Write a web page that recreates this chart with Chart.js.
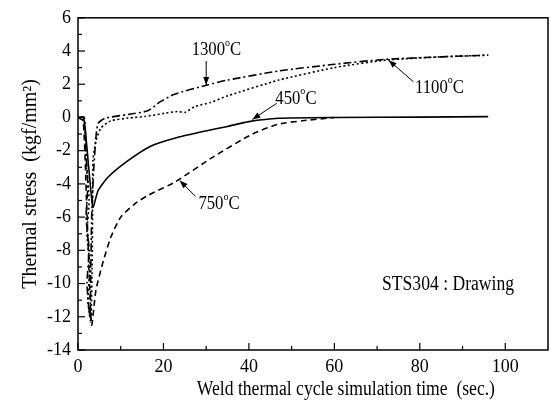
<!DOCTYPE html>
<html><head><meta charset="utf-8">
<script src="https://cdn.jsdelivr.net/npm/chart.js@4/dist/chart.umd.min.js"></script>
<style>html,body{margin:0;padding:0;background:#fff}#wrap{width:551px;height:417px}</style>
</head><body><div id="wrap"><canvas id="c" width="551" height="417"></canvas></div>
<script>
// ---- data ----
const t1300 = [0,1.5,1.8,2.3,1.9,2.6,2.1,2.8,3.0,3.2,3.6,4.2,4.7,6.3,11.7,16.3,19.3,22.6,30.3,35,47,60,72,85,96];
const s1300 = [0,0,-2,-4,-6,-8,-10,-12,-9,-6,-3.5,-1.2,-0.36,-0.05,0.18,0.4,0.95,1.4,1.96,2.25,2.8,3.2,3.5,3.65,3.75];
const t1100 = [0,1.5,2.0,2.6,2.1,2.8,2.3,3.0,3.3,3.4,3.5,4.2,5.4,7.7,11.7,15.6,20.3,23.3,25,27.3,31,35,47,60,72,85,96];
const s1100 = [0,-0.2,-3,-5,-7,-9,-11,-12.3,-9,-6,-2.6,-1.4,-0.63,-0.2,-0.04,0.06,0.25,0.36,0.3,0.65,0.9,1.3,2.25,3.0,3.45,3.65,3.75];
const t450 = [0,1.3,2.5,3.5,4.7,7,11.7,17,22.6,29.6,35,40,47,60,80,96];
const s450 = [0,0,-3,-5.4,-4.4,-3.6,-2.6,-1.73,-1.25,-0.83,-0.54,-0.25,-0.05,0,0.02,0.05];
const t750 = [0,1.2,2.0,2.7,3.2,4.2,5.8,7.7,10,13.3,16.3,22.6,31.5,40.8,47,52.5,60];
const s750 = [0,-0.2,-5,-10,-12.5,-10.4,-8.75,-7.2,-6.0,-5.2,-4.7,-3.9,-2.4,-1.0,-0.4,-0.2,0];
const xTicks = [0,20,40,60,80,100];
const yTicks = [-14,-12,-10,-8,-6,-4,-2,0,2,4,6];
// annotation labels: text, label position (t, stress), arrow tail, arrow head
const annText = ["1300°C","1100°C","450°C","750°C"];
const annPos  = [[32.4,4.05],[84.6,1.8],[51,1.13],[33,-5.2]];
const annTail = [[30,3.4],[78.5,2.15],[46.5,0.85],[27.5,-4.75]];
const annHead = [[30,1.95],[72.7,3.45],[40.8,-0.12],[23.8,-3.8]];
const noteText = "STS304 : Drawing";
const notePos = [86.6,-10.1];
const xTitle = "Weld thermal cycle simulation time  (sec.)";
const yTitle = "Thermal stress  (kgf/mm²)";

const pts = (t,s)=>t.map((v,i)=>({x:v,y:s[i]}));
const FONT = '"Liberation Serif", "Times New Roman", serif';
const SQ = 0.88; // horizontal squeeze of the scanned lettering

function drawSup(ctx, text, x, y, size){
  const parts = text.split('°');
  ctx.save();
  ctx.translate(x,y); ctx.scale(SQ,1);
  ctx.font = size+'px '+FONT;
  const w0 = ctx.measureText(parts[0]).width;
  ctx.font = (size*0.6)+'px '+FONT;
  const w1 = parts.length>1 ? ctx.measureText('o').width : 0;
  ctx.font = size+'px '+FONT;
  const w2 = parts.length>1 ? ctx.measureText(parts[1]).width : 0;
  let cx = -(w0+w1+w2)/2;
  ctx.textBaseline='middle'; ctx.textAlign='left';
  ctx.fillText(parts[0], cx, 0); cx += w0;
  if(parts.length>1){
    ctx.font = (size*0.6)+'px '+FONT;
    ctx.fillText('o', cx, -size*0.38); cx += w1;
    ctx.font = size+'px '+FONT;
    ctx.fillText(parts[1], cx, 0);
  }
  ctx.restore();
}

const framePlugin = {
  id:'frame',
  afterDatasetsDraw(chart){
    const {ctx, chartArea:a, scales:{x,y}} = chart;
    ctx.save();
    ctx.strokeStyle='#000'; ctx.lineWidth=1.5;
    ctx.strokeRect(a.left, a.top, a.right-a.left, a.bottom-a.top);
    ctx.lineWidth=1.2;
    for(let v=0; v<=100; v+=10){
      const px=x.getPixelForValue(v), len = v%20===0?7:4;
      ctx.beginPath(); ctx.moveTo(px,a.bottom); ctx.lineTo(px,a.bottom-len); ctx.stroke();
    }
    for(let v=-14; v<=6; v+=1){
      const py=y.getPixelForValue(v), len = v%2===0?7:4;
      ctx.beginPath(); ctx.moveTo(a.left,py); ctx.lineTo(a.left+len,py); ctx.stroke();
    }
    ctx.fillStyle='#000'; ctx.lineWidth=1;
    annText.forEach((txt,i)=>{
      drawSup(ctx, txt, x.getPixelForValue(annPos[i][0]), y.getPixelForValue(annPos[i][1]), 19);
      const x1=x.getPixelForValue(annTail[i][0]), y1=y.getPixelForValue(annTail[i][1]);
      const x2=x.getPixelForValue(annHead[i][0]), y2=y.getPixelForValue(annHead[i][1]);
      ctx.beginPath(); ctx.moveTo(x1,y1); ctx.lineTo(x2,y2); ctx.stroke();
      const ang=Math.atan2(y2-y1,x2-x1), L=8, W=3;
      ctx.beginPath(); ctx.moveTo(x2,y2);
      ctx.lineTo(x2-L*Math.cos(ang)+W*Math.sin(ang), y2-L*Math.sin(ang)-W*Math.cos(ang));
      ctx.lineTo(x2-L*Math.cos(ang)-W*Math.sin(ang), y2-L*Math.sin(ang)+W*Math.cos(ang));
      ctx.closePath(); ctx.fill();
    });
    drawSup(ctx, noteText, x.getPixelForValue(notePos[0]), y.getPixelForValue(notePos[1]), 20);
    // x-axis title (centred as in the reference, slightly right of the plot centre)
    drawSup(ctx, xTitle, x.getPixelForValue(62.7), a.bottom+40, 20);
    ctx.restore();
  }
};

const ds = (label,t,s,dash)=>({label,data:pts(t,s),borderColor:'#000',borderWidth:1.6,borderDash:dash,pointRadius:0,showLine:true,fill:false,tension:0.2});

new Chart(document.getElementById('c'),{
  type:'scatter',
  data:{datasets:[
    ds('1300°C',t1300,s1300,[8,3,2,3]),
    ds('1100°C',t1100,s1100,[2,2.5]),
    ds('450°C',t450,s450,[]),
    ds('750°C',t750,s750,[6,4])
  ]},
  options:{
    responsive:false, animation:false, devicePixelRatio:1,
    layout:{padding:{left:0,right:3,top:14,bottom:0}},
    plugins:{legend:{display:false},tooltip:{enabled:false}},
    scales:{
      x:{type:'linear',min:0,max:110,
        afterBuildTicks:s=>{s.ticks=xTicks.map(v=>({value:v}));},
        afterFit:s=>{s.height=67;},
        grid:{display:false,drawTicks:false},border:{display:false},
        ticks:{color:'#000',font:{family:FONT,size:18},padding:6,maxRotation:0},
        title:{display:false}
      },
      y:{type:'linear',min:-14,max:6,
        afterBuildTicks:s=>{s.ticks=yTicks.map(v=>({value:v}));},
        afterFit:s=>{s.width=78;},
        grid:{display:false,drawTicks:false},border:{display:false},
        ticks:{color:'#000',font:{family:FONT,size:18},padding:7},
        title:{display:true,text:yTitle,color:'#000',font:{family:FONT,size:20},padding:{top:19,bottom:0}}
      }
    }
  },
  plugins:[framePlugin]
});
</script></body></html>
